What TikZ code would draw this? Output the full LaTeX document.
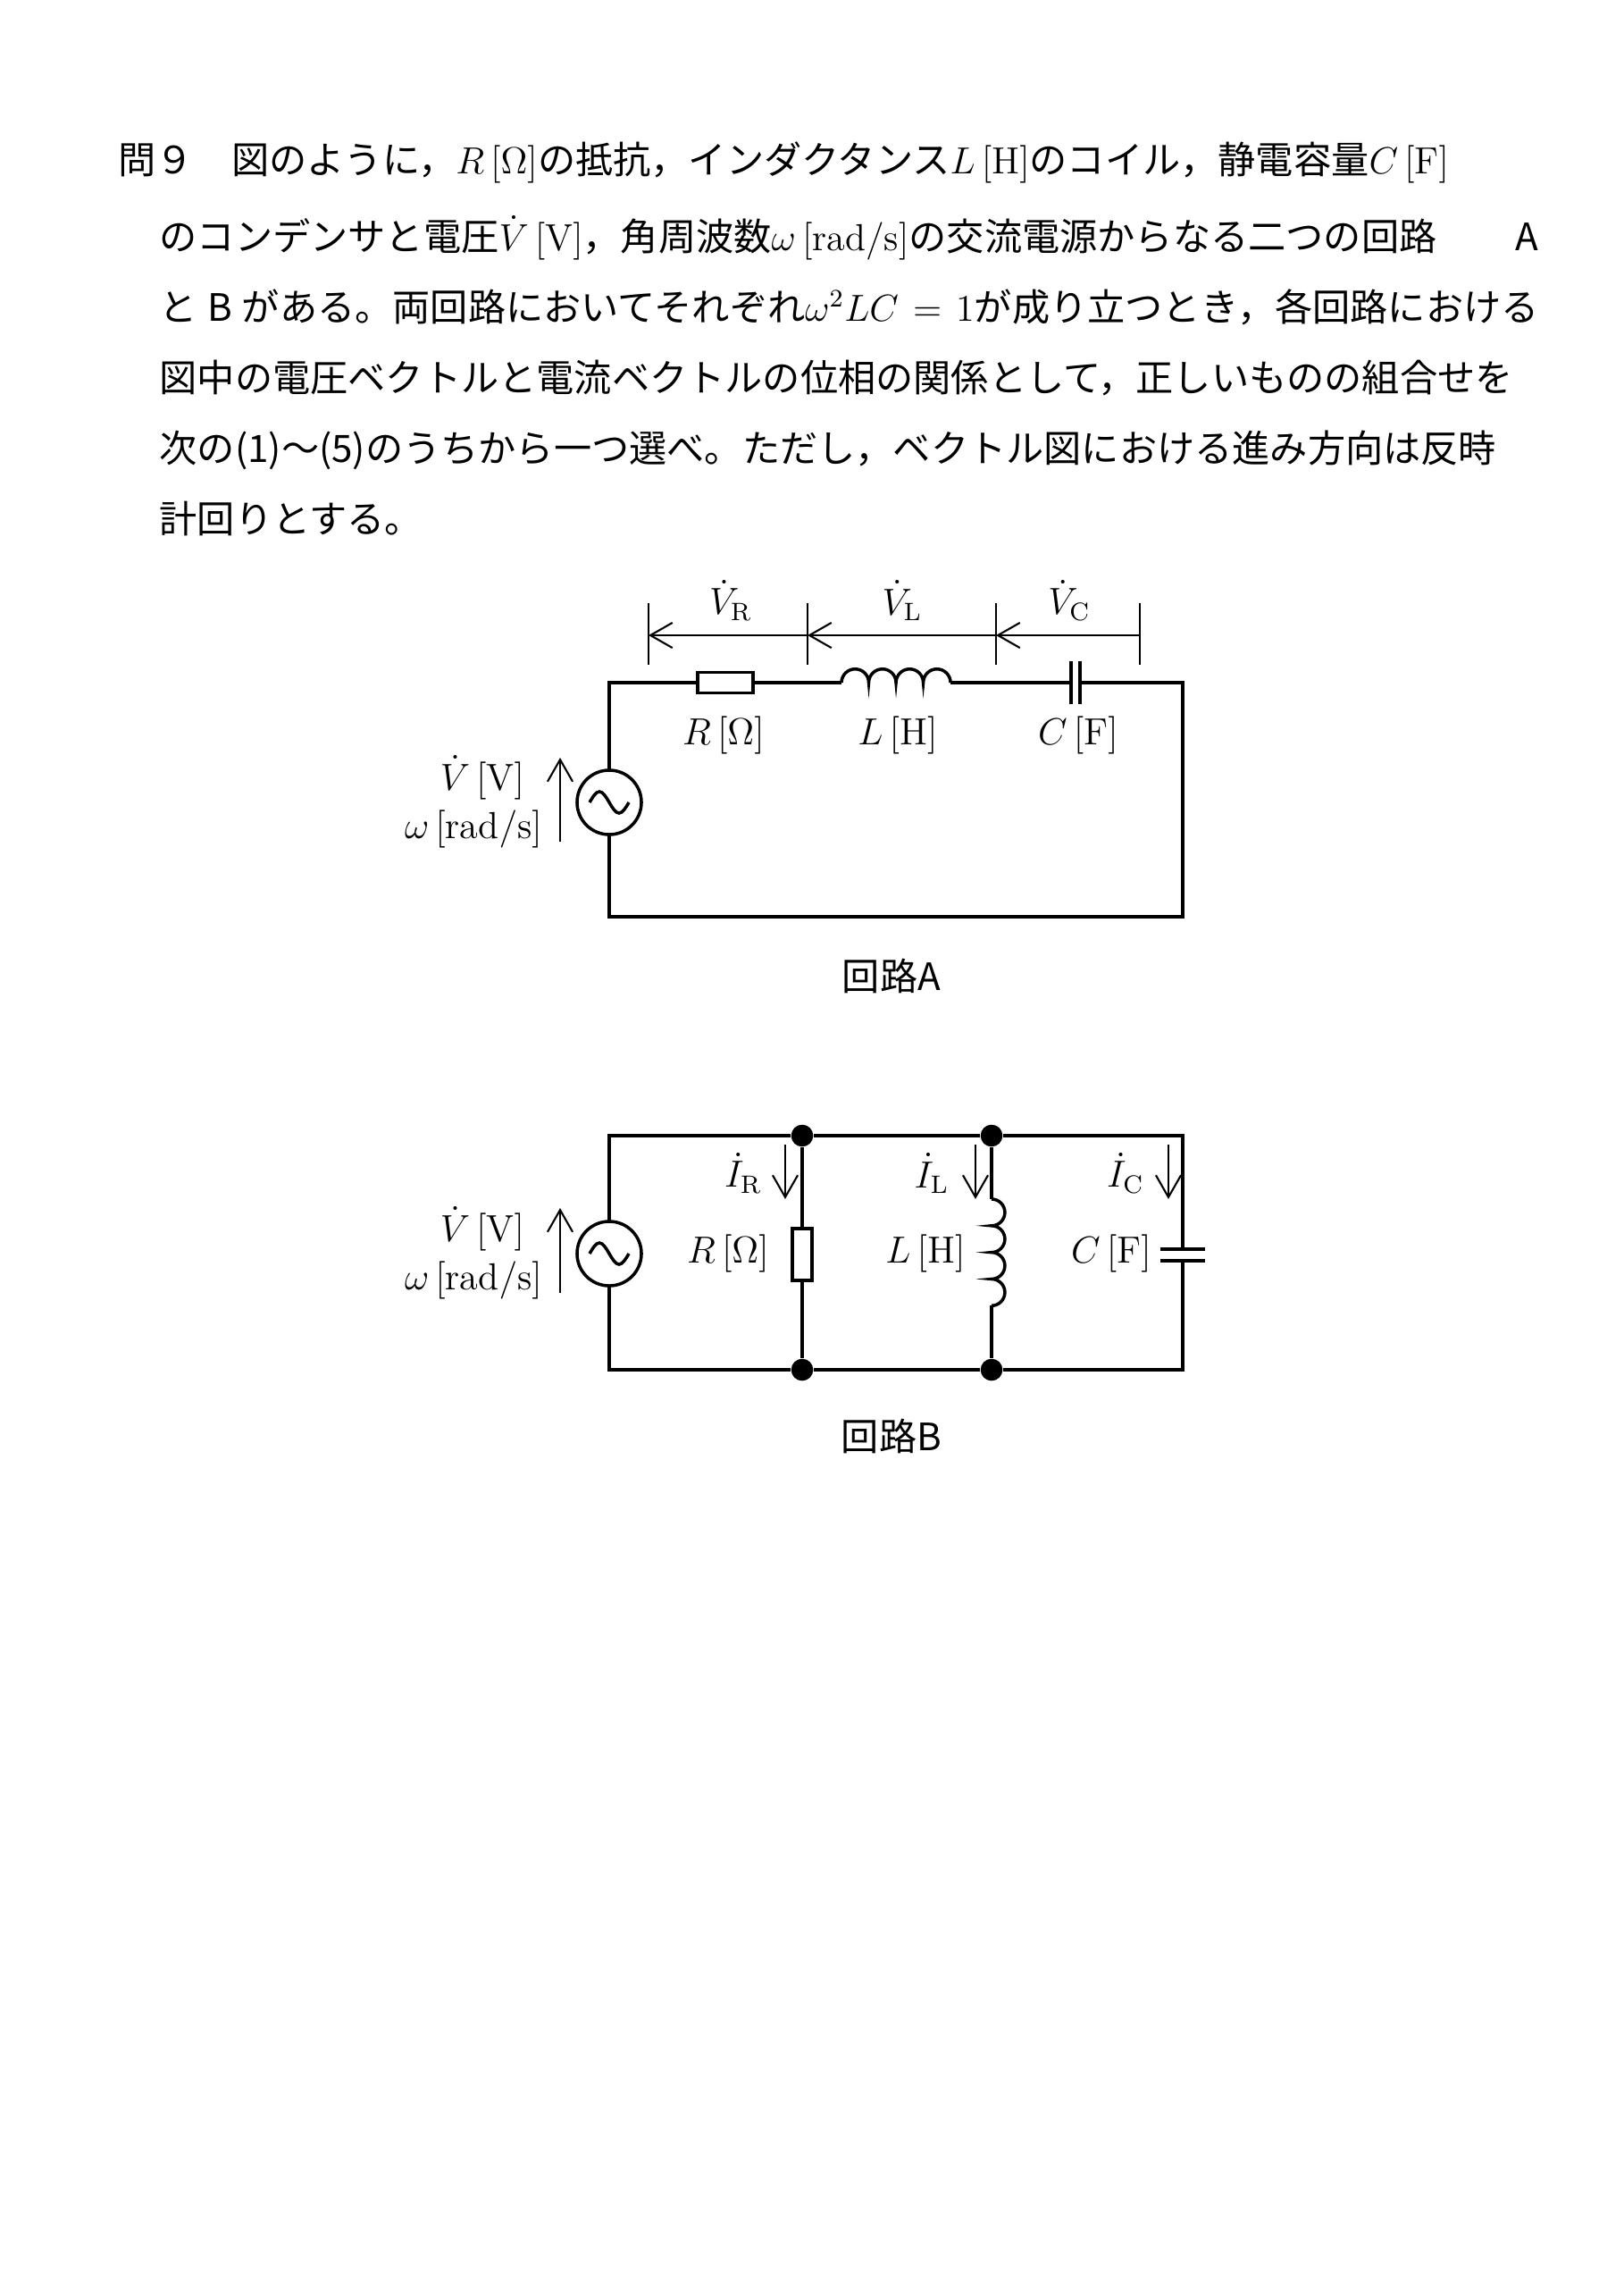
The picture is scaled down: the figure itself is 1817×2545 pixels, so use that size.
\documentclass[tikz,border=0pt]{standalone}
\usepackage{fontspec}
\newfontfamily\jp{Noto Sans CJK JP}
\usetikzlibrary{arrows.meta,positioning,calc}
\XeTeXlinebreaklocale "ja"
\XeTeXlinebreakskip=0pt plus 2pt
\tikzset{
  wire/.style={line width=1pt},
  dimarrow/.style={line width=0.6pt,-{Straight Barb[length=7pt,width=8pt]}},
  lbl/.style={font=\fontsize{12}{14}\selectfont,inner sep=0pt},
  txt/.style={font=\jp\fontsize{12}{15}\selectfont,inner sep=0pt,anchor=base west},
  dot/.style={fill,circle,inner sep=0pt,minimum size=7pt}
}
\newcommand{\srcsym}[1]{%
  \draw[wire] (#1) circle[radius=0.36cm];
  \draw[wire] ($(#1)+(-22,0)$) sin ($(#1)+(-11,-12)$) cos ($(#1)+(0,0)$) sin ($(#1)+(11,12)$) cos ($(#1)+(22,0)$);}
\begin{document}
\begin{tikzpicture}[x=0.01cm,y=-0.01cm]
\useasboundingbox (0,0) rectangle (1817,2545);
% question text
\node[txt] (t1) at (132,194) {\makebox[15.89cm][s]{問９　図のように，$R\,[\Omega]$の抵抗，インダクタンス$L\,[\mathrm{H}]$のコイル，静電容量$C\,[\mathrm{F}]$}};
\node[txt] (t2) at (178,280) {\makebox[15.43cm][s]{のコンデンサと電圧$\dot V\,[\mathrm{V}]$，角周波数$\omega\,[\mathrm{rad/s}]$の交流電源からなる二つの回路 A}};
\node[txt] (t3) at (178,359) {\makebox[15.43cm][s]{と B がある。両回路においてそれぞれ$\omega^2LC=1$が成り立つとき，各回路における}};
\node[txt] (t4) at (178,438) {\makebox[15.43cm][s]{図中の電圧ベクトルと電流ベクトルの位相の関係として，正しいものの組合せを}};
\node[txt] (t5) at (178,517) {\makebox[15.43cm][s]{次の(1)～(5)のうちから一つ選べ。ただし，ベクトル図における進み方向は反時}};
\node[txt] (t6) at (178,596) {計回りとする。};

% circuit A
\coordinate (atl) at (682,764); \coordinate (atr) at (1324,764);
\coordinate (abl) at (682,1026); \coordinate (abr) at (1324,1026);
\coordinate (asrc) at (682,898);
\node[draw,line width=1pt,minimum width=0.62cm,minimum height=0.23cm,inner sep=0pt] (ra) at (812,764) {};
\coordinate (la1) at (942,764); \coordinate (la2) at (1064,764);
\coordinate (ca1) at (1199,764); \coordinate (ca2) at (1209,764);
\srcsym{asrc}
\draw[wire] ($(asrc)+(0,-36)$) -- (atl) -- (ra.west);
\draw[wire] (ra.east) -- (la1);
\draw[wire] (la1) arc[start angle=180,end angle=0,radius=0.1525cm] arc[start angle=180,end angle=0,radius=0.1525cm]
  arc[start angle=180,end angle=0,radius=0.1525cm] arc[start angle=180,end angle=0,radius=0.1525cm];
\draw[wire] (la2) -- (ca1);
\draw[line width=1.3pt] ($(ca1)+(0,-24)$) -- ($(ca1)+(0,24)$);
\draw[line width=1.3pt] ($(ca2)+(0,-24)$) -- ($(ca2)+(0,24)$);
\draw[wire] (ca2) -- (atr) -- (abr) -- (abl) -- ($(asrc)+(0,36)$);
% dimension lines
\foreach \x/\n in {726/d1,904/d2,1115/d3,1276/d4}{
  \coordinate (\n) at (\x,711);
  \draw[line width=0.6pt] (\x,675) -- (\x,744);}
\draw[dimarrow] (d2) -- (d1);
\draw[dimarrow] (d3) -- (d2);
\draw[dimarrow] (d4) -- (d3);
\node[lbl] (vr) at (818,672) {$\dot V_{\mathrm{R}}$};
\node[lbl] (vl) at (1010,672) {$\dot V_{\mathrm{L}}$};
\node[lbl] (vc) at (1197,672) {$\dot V_{\mathrm{C}}$};
\node[lbl] (ra lbl) at (810,823) {$R\,[\Omega]$};
\node[lbl] (la lbl) at (1005,823) {$L\,[\mathrm{H}]$};
\node[lbl] (ca lbl) at (1207,823) {$C\,[\mathrm{F}]$};
\node[lbl] (va) at (540,870) {$\dot V\,[\mathrm{V}]$};
\node[lbl] (wa) at (530,928) {$\omega\,[\mathrm{rad/s}]$};
\draw[dimarrow] (627,942) -- (627,848);
\node[lbl,font=\jp\fontsize{12}{15}\selectfont] (capA) at (998,1092) {回路A};

% circuit B
\coordinate (btl) at (682,1271); \coordinate (btr) at (1324,1271);
\coordinate (bbl) at (682,1533); \coordinate (bbr) at (1324,1533);
\coordinate (bsrc) at (682,1403);
\node[dot] (n1) at (898,1271) {}; \node[dot] (n2) at (1110,1271) {};
\node[dot] (n3) at (898,1533) {}; \node[dot] (n4) at (1110,1533) {};
\node[draw,line width=1pt,minimum width=0.22cm,minimum height=0.58cm,inner sep=0pt] (rb) at (898,1404) {};
\coordinate (lb1) at (1110,1342); \coordinate (lb2) at (1110,1461);
\coordinate (cb1) at (1324,1398); \coordinate (cb2) at (1324,1411);
\srcsym{bsrc}
\draw[wire] ($(bsrc)+(0,-36)$) -- (btl) -- (n1) -- (n2) -- (btr) -- (cb1);
\draw[wire] (cb2) -- (bbr) -- (n4) -- (n3) -- (bbl) -- ($(bsrc)+(0,36)$);
\draw[wire] (n1) -- (rb.north); \draw[wire] (rb.south) -- (n3);
\draw[wire] (n2) -- (lb1);
\draw[wire] (lb1) arc[start angle=90,end angle=-90,radius=0.149cm] arc[start angle=90,end angle=-90,radius=0.149cm]
  arc[start angle=90,end angle=-90,radius=0.149cm] arc[start angle=90,end angle=-90,radius=0.149cm];
\draw[wire] (lb2) -- (n4);
\draw[line width=1.3pt] ($(cb1)+(-25,0)$) -- ($(cb1)+(25,0)$);
\draw[line width=1.3pt] ($(cb2)+(-25,0)$) -- ($(cb2)+(25,0)$);
\foreach \x in {879,1092,1308}{\draw[dimarrow] (\x,1281) -- (\x,1342);}
\node[lbl] (ir) at (832,1313) {$\dot I_{\mathrm{R}}$};
\node[lbl] (il) at (1043,1313) {$\dot I_{\mathrm{L}}$};
\node[lbl] (ic) at (1260,1313) {$\dot I_{\mathrm{C}}$};
\node[lbl] (rb lbl) at (815,1403) {$R\,[\Omega]$};
\node[lbl] (lb lbl) at (1036,1403) {$L\,[\mathrm{H}]$};
\node[lbl] (cb lbl) at (1244,1403) {$C\,[\mathrm{F}]$};
\node[lbl] (vb) at (540,1375) {$\dot V\,[\mathrm{V}]$};
\node[lbl] (wb) at (530,1433) {$\omega\,[\mathrm{rad/s}]$};
\draw[dimarrow] (627,1447) -- (627,1352);
\node[lbl,font=\jp\fontsize{12}{15}\selectfont] (capB) at (998,1607) {回路B};
\end{tikzpicture}
\end{document}
